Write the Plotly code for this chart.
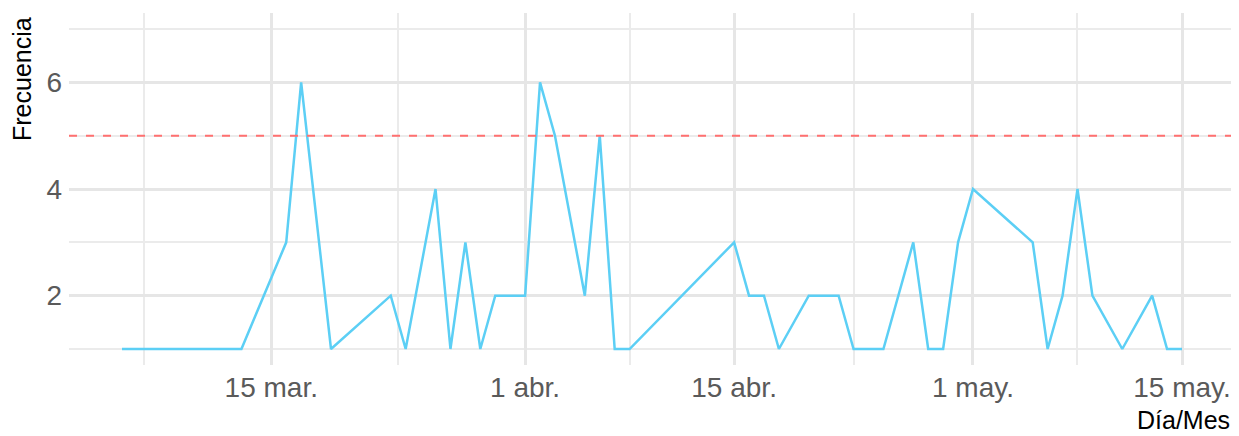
import plotly.graph_objects as go

# Data
dates = ["2020-03-05", "2020-03-13", "2020-03-16", "2020-03-17", "2020-03-19",
         "2020-03-23", "2020-03-24", "2020-03-26", "2020-03-27", "2020-03-28",
         "2020-03-29", "2020-03-30", "2020-04-01", "2020-04-02", "2020-04-03",
         "2020-04-05", "2020-04-06", "2020-04-07", "2020-04-08", "2020-04-15",
         "2020-04-16", "2020-04-17", "2020-04-18", "2020-04-20", "2020-04-22",
         "2020-04-23", "2020-04-25", "2020-04-27", "2020-04-28", "2020-04-29",
         "2020-04-30", "2020-05-01", "2020-05-05", "2020-05-06", "2020-05-07",
         "2020-05-08", "2020-05-09", "2020-05-11", "2020-05-13", "2020-05-14",
         "2020-05-15"]
frecuencia = [1, 1, 3, 6, 1,
              2, 1, 4, 1, 3,
              1, 2, 2, 6, 5,
              2, 5, 1, 1, 3,
              2, 2, 1, 2, 2,
              1, 1, 3, 1, 1,
              3, 4, 3, 1, 2,
              4, 2, 1, 2, 1,
              1]
umbral = 5

x_tickvals = ["2020-03-15", "2020-04-01", "2020-04-15", "2020-05-01", "2020-05-15"]
x_ticktext = ["15 mar.", "1 abr.", "15 abr.", "1 may.", "15 may."]
x_minorvals = ["2020-03-06 12:00", "2020-03-23 12:00", "2020-04-08", "2020-04-23", "2020-05-08"]
y_tickvals = [2, 4, 6]
y_minorvals = [1, 3, 5, 7]
x_range = ["2020-03-01 10:48", "2020-05-18 13:12"]
y_range = [0.7, 7.3]

FONT = "Liberation Sans, Arial, sans-serif"
GRID = "#E6E6E6"
GRID_MINOR = "#EBEBEB"
TICK_COLOR = "#5A5A5A"

fig = go.Figure()
fig.add_trace(go.Scatter(
    x=dates, y=frecuencia, mode="lines",
    line=dict(color="#5CCFF5", width=2.5),
    showlegend=False,
))

fig.add_shape(type="line", xref="paper", x0=0, x1=1, yref="y", y0=umbral, y1=umbral,
              line=dict(color="#FF7070", width=2, dash="8px,9px"), layer="above")

# page body has an 8px default margin: figure is sized to fit the remaining window
fig.update_layout(
    width=1231, height=428,
    margin=dict(l=61, r=4, t=5, b=71),
    paper_bgcolor="white", plot_bgcolor="white",
    font=dict(family=FONT, size=28, color=TICK_COLOR),
    showlegend=False,
)

fig.update_xaxes(
    type="date", range=x_range,
    tickmode="array", tickvals=x_tickvals, ticktext=x_ticktext,
    showgrid=True, gridcolor=GRID, gridwidth=2.5,
    minor=dict(tickmode="array", tickvals=x_minorvals, showgrid=True,
               gridcolor=GRID_MINOR, gridwidth=2),
    zeroline=False, showline=False, ticks="",
    ticklabelstandoff=3,
    tickfont=dict(size=28, color=TICK_COLOR),
)
fig.update_yaxes(
    range=y_range,
    tickmode="array", tickvals=y_tickvals,
    showgrid=True, gridcolor=GRID, gridwidth=2.5,
    minor=dict(tickmode="array", tickvals=y_minorvals, showgrid=True,
               gridcolor=GRID_MINOR, gridwidth=2),
    zeroline=False, showline=False, ticks="",
    ticklabelstandoff=6,
    tickfont=dict(size=28, color=TICK_COLOR),
)

fig.add_annotation(text="Frecuencia", xref="paper", yref="paper", x=0, y=1,
                   xanchor="center", yanchor="top", xshift=-47, yshift=-2,
                   textangle=-90, showarrow=False,
                   font=dict(family=FONT, size=25, color="black"))
fig.add_annotation(text="Día/Mes", xref="paper", yref="paper", x=1, y=0,
                   xanchor="right", yanchor="middle", xshift=-3, yshift=-55,
                   showarrow=False,
                   font=dict(family=FONT, size=25, color="black"))

fig.write_html("out.html")
